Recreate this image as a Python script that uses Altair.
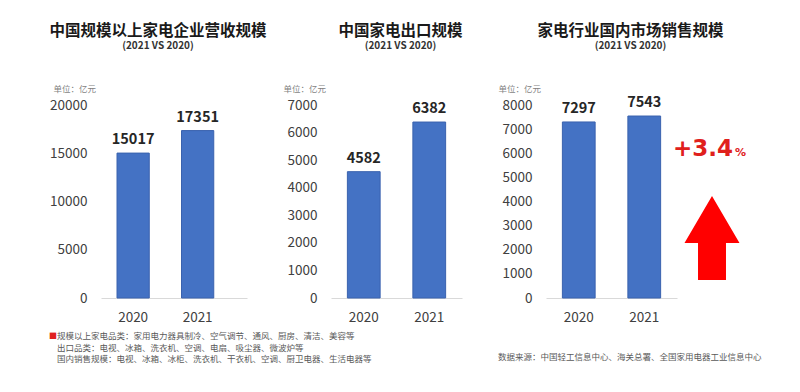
import altair as alt
import pandas as pd

FONT = "Noto Sans CJK SC"

years = ["2020", "2021"]
revenue = [15017, 17351]
export_vals = [4582, 6382]
domestic = [7297, 7543]

titles = ["中国规模以上家电企业营收规模", "中国家电出口规模", "家电行业国内市场销售规模"]
subtitle = "(2021 VS 2020)"
unit = "单位：亿元"
notes = [
    "规模以上家电品类：家用电力器具制冷、空气调节、通风、厨房、清洁、美容等",
    "出口品类：电视、冰箱、洗衣机、空调、电扇、吸尘器、微波炉等",
    "国内销售规模：电视、冰箱、冰柜、洗衣机、干衣机、空调、厨卫电器、生活电器等",
]
source = "数据来源：中国轻工信息中心、海关总署、全国家用电器工业信息中心"
growth = "+3.4"
pct = "%"

H = 193


def panel(values, ymax, step, width, title, dx, po, align):
    df = pd.DataFrame({"year": years, "value": values})
    x = alt.X(
        "year:N",
        sort=years,
        scale=alt.Scale(paddingInner=0.5, paddingOuter=po, align=align, round=False),
        axis=alt.Axis(
            title=None, labelAngle=0, ticks=False, domain=True, domainColor="#D9D9D9",
            labelFont=FONT, labelFontSize=13.5, labelColor="#404040", labelPadding=12,
        ),
    )
    y = alt.Y(
        "value:Q",
        scale=alt.Scale(domain=[0, ymax], nice=False),
        axis=alt.Axis(
            values=list(range(0, ymax + 1, step)), format="d", grid=False, ticks=False,
            domain=False,
            labelFont=FONT, labelFontSize=13.5, labelColor="#404040", labelPadding=14,
            title=unit, titleAngle=0, titleAlign="left", titleBaseline="middle",
            titleX=-48, titleY=-17, titleFont=FONT, titleFontSize=8.5,
            titleFontWeight="normal", titleColor="#7F7F7F",
        ),
    )
    base = alt.Chart(df)
    bars = base.mark_bar(color="#4472C4", stroke="#3A62AE", strokeWidth=1).encode(x=x, y=y)
    labels = base.mark_text(
        baseline="bottom", dy=-6, font=FONT, fontSize=14.5, fontWeight="bold", color="#262626"
    ).encode(x=x, y=y, text="value:Q")
    ch = alt.layer(bars, labels).properties(
        width=width, height=H,
        title=alt.TitleParams(
            text=title, subtitle=subtitle, anchor="middle", frame="group", dx=dx,
            font=FONT, fontSize=15.5, fontWeight="bold", color="#1A1A1A",
            subtitleFont=FONT, subtitleFontSize=10, subtitleFontWeight="bold",
            subtitleColor="#333333", subtitlePadding=2, offset=33,
        ),
    )
    return ch


one = pd.DataFrame({"k": [0]})

p1 = panel(revenue, 20000, 5000, 146, titles[0], -16, 0.3818, 0.325)
note_sq = alt.Chart(one).mark_text(
    text="■", font=FONT, fontSize=8, color="#E02020", align="left", baseline="top"
).encode(x=alt.value(-52), y=alt.value(228))
note_txt = alt.Chart(one).mark_text(
    text=notes, font=FONT, fontSize=8.5, color="#595959", align="left", baseline="top",
    lineHeight=11.5,
).encode(x=alt.value(-44), y=alt.value(227))
p1 = alt.layer(p1, note_sq, note_txt)

p2 = panel(export_vals, 7000, 1000, 131, titles[1], 4, 0.25, 0.5)

p3 = panel(domestic, 8000, 1000, 131, titles[2], 19, 0.25, 0.5)
src = alt.Chart(one).mark_text(
    text=source, font=FONT, fontSize=8.5, color="#595959", align="left", baseline="middle"
).encode(x=alt.value(-48), y=alt.value(252))
g_txt = alt.Chart(one).mark_text(
    text=growth, font="DejaVu Sans", fontSize=23, fontWeight="bold", color="#E0201C",
    align="left", baseline="alphabetic",
).encode(x=alt.value(127), y=alt.value(51))
p_txt = alt.Chart(one).mark_text(
    text=pct, font="DejaVu Sans", fontSize=11, fontWeight="bold", color="#E0201C",
    align="left", baseline="alphabetic",
).encode(x=alt.value(189), y=alt.value(51))
arrow_path = "M0,-1 L0.655,0.119 L0.333,0.119 L0.333,1 L-0.333,1 L-0.333,0.119 L-0.655,0.119 Z"
arrow = alt.Chart(one).mark_point(
    shape=arrow_path, filled=True, color="#FF0000", opacity=1, size=7056, strokeWidth=0
).encode(x=alt.value(166), y=alt.value(133))
p3 = alt.layer(p3, src, g_txt, p_txt, arrow)

chart = alt.hconcat(p1, p2, p3, spacing=84, bounds="flush").properties(
    padding={"left": 41, "top": 15, "right": 5, "bottom": 5}
).configure_view(stroke=None)

chart.save("out.html", embed_options={"renderer": "svg", "actions": False})
